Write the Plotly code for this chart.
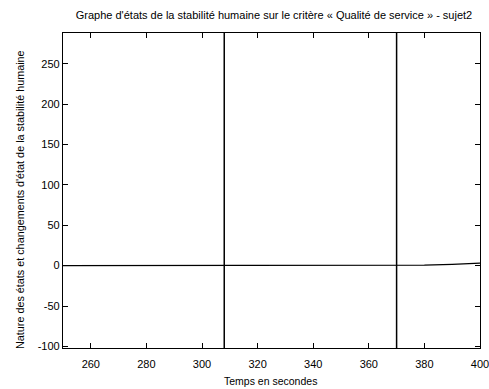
import plotly.graph_objects as go

# Data
times = [250, 300, 308, 340, 370, 380, 390, 400]
values = [0, 0, 0, 0, 0, 0.5, 1.5, 3]
change_times = [308, 370]
y_span = [-110, 300]

x_ticks = [260, 280, 300, 320, 340, 360, 380, 400]
y_ticks = [-100, -50, 0, 50, 100, 150, 200, 250]
y_tick_text = ["-100", "-50", "0", "50", "100", "150", "200", "250"]

fig = go.Figure()
fig.add_trace(go.Scatter(x=times, y=values, mode="lines",
                         line=dict(color="black", width=1.2), showlegend=False))
for t in change_times:
    fig.add_trace(go.Scatter(x=[t, t], y=y_span, mode="lines",
                             line=dict(color="black", width=1.5), showlegend=False))

font = "Liberation Sans, Arial, sans-serif"
W, H = 489, 389
L, R, T, B = 63, 9, 33, 41
PW, PH = W - L - R, H - T - B
fig.update_layout(
    width=W, height=H,
    margin=dict(l=L, r=R, t=T, b=B),
    paper_bgcolor="white", plot_bgcolor="white",
    title=dict(text="Graphe d'états de la stabilité humaine sur le critère « Qualité de service » - sujet2",
               x=274 / W, xanchor="center", y=1 - 15 / H, yanchor="middle",
               font=dict(family=font, size=11, color="black")),
    font=dict(family=font, size=11, color="black"),
    annotations=[
        dict(text="Temps en secondes", xref="paper", yref="paper",
             x=(270 - L) / PW, y=-(381 - (H - B)) / PH, xanchor="center", yanchor="middle",
             showarrow=False, font=dict(size=10.5)),
        dict(text="Nature des états et changements d'état de la stabilité humaine",
             xref="paper", yref="paper", textangle=-90,
             x=-(L - 20) / PW, y=(H - B - 200) / PH, xanchor="center", yanchor="middle",
             showarrow=False, font=dict(size=10.8)),
    ],
)
fig.update_xaxes(range=[250, 400], tickvals=x_ticks, ticks="inside", ticklen=5,
                 tickcolor="black", showline=True, linecolor="black", linewidth=1.2,
                 mirror="allticks", showgrid=False, zeroline=False, automargin=False,
                 ticklabelstandoff=6, ticklabeloverflow="allow", tickfont=dict(size=11))
fig.update_yaxes(range=[-102, 288], tickvals=y_ticks, ticktext=y_tick_text,
                 ticks="inside", ticklen=5,
                 tickcolor="black", showline=True, linecolor="black", linewidth=1.2,
                 mirror="allticks", showgrid=False, zeroline=False, automargin=False,
                 ticklabeloverflow="allow", tickfont=dict(size=11))

fig.write_html("out.html", config={"displayModeBar": False},
               post_script="document.body.style.margin='0';document.body.style.overflow='hidden';")
